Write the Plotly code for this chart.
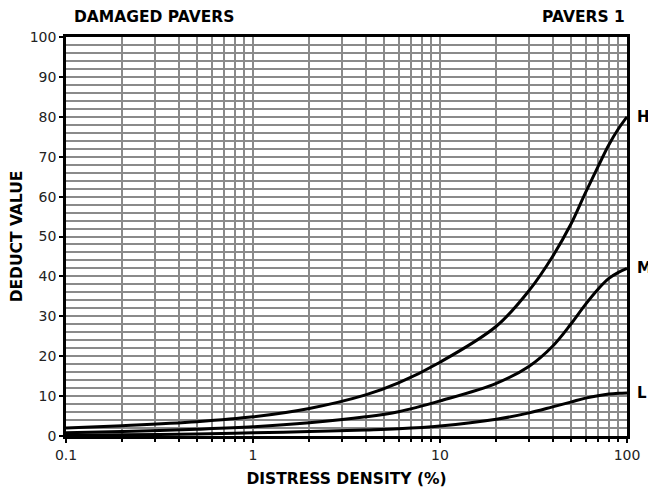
import plotly.graph_objects as go

# distress density (%) and deduct values
density = [0.1, 0.2, 0.5, 1, 2, 4, 6, 10, 20, 30, 40, 50, 60, 70, 80, 90, 100]
high = [2, 2.6, 3.6, 4.8, 6.9, 10.3, 13.3, 18.5, 27.5, 36.5, 45, 53, 61, 67.5, 73, 77, 80]
medium = [0.8, 1.1, 1.7, 2.3, 3.3, 4.8, 6.1, 8.8, 13.2, 17.5, 22.5, 28, 33, 36.8, 39.5, 41, 42]
low = [0.2, 0.3, 0.5, 0.8, 1.1, 1.5, 1.8, 2.5, 4.2, 5.8, 7.3, 8.5, 9.5, 10.1, 10.5, 10.7, 10.8]

series = [("H", high), ("M", medium), ("L", low)]

FONT = "DejaVu Sans"

fig = go.Figure()
for name, vals in series:
    fig.add_trace(go.Scatter(
        x=density, y=vals, mode="lines", name=name,
        line=dict(color="black", width=3, shape="spline", smoothing=1.0),
        showlegend=False, cliponaxis=False,
    ))
    fig.add_annotation(x=2, y=vals[-1], xref="x", yref="y", text="<b>%s</b>" % name,
                       showarrow=False, xanchor="left", xshift=8,
                       font=dict(family=FONT, size=15, color="black"))

fig.add_annotation(x=0, y=1.0, xref="paper", yref="paper", yshift=20,
                   text="<b>DAMAGED PAVERS</b>", showarrow=False,
                   xanchor="left", yanchor="middle", xshift=6,
                   font=dict(family=FONT, size=15.5, color="black"))
fig.add_annotation(x=1, y=1.0, xref="paper", yref="paper", yshift=20,
                   text="<b>PAVERS 1</b>", showarrow=False,
                   xanchor="right", yanchor="middle",
                   font=dict(family=FONT, size=15.5, color="black"))

# page body adds an 8px offset, so the figure is 8px smaller on each dimension
fig.update_layout(
    width=648, height=485,
    margin=dict(l=58, r=29, t=29, b=57),
    paper_bgcolor="white", plot_bgcolor="white",
    font=dict(family=FONT, size=14, color="#222"),
    xaxis=dict(
        type="log", range=[-1, 2], automargin=False,
        tickvals=[0.1, 1, 10, 100], ticktext=["0.1", "1", "10", "100"],
        showgrid=True, gridcolor="#8a8a8a", gridwidth=1.5,
        ticks="outside", ticklen=4, tickcolor="black", tickwidth=2,
        minor=dict(dtick="D1", showgrid=True, gridcolor="#8a8a8a", gridwidth=1.5,
                   ticks="outside", ticklen=3, tickcolor="black", tickwidth=2),
        showline=True, linecolor="black", linewidth=2.5, mirror=True,
        title=dict(text="<b>DISTRESS DENSITY (%)</b>", standoff=12,
                   font=dict(family=FONT, size=15.5, color="black")),
        zeroline=False,
    ),
    yaxis=dict(
        range=[0, 100], dtick=10, automargin=False,
        showgrid=True, gridcolor="#8a8a8a", gridwidth=1.5,
        ticks="outside", ticklen=4, tickcolor="black", tickwidth=2,
        minor=dict(dtick=2, showgrid=True, gridcolor="#8a8a8a", gridwidth=1.5),
        showline=True, linecolor="black", linewidth=2.5, mirror=True,
        title=dict(text="<b>DEDUCT VALUE</b>", standoff=10,
                   font=dict(family=FONT, size=15.5, color="black")),
        zeroline=False,
    ),
)

fig.write_html("out.html")
